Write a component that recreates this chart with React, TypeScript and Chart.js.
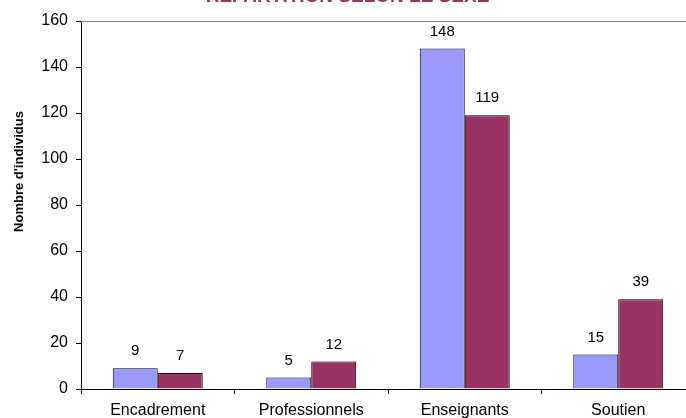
import React, { useEffect, useRef } from "react";
import { Chart, registerables } from "chart.js";

Chart.register(...registerables);

const categories = ["Encadrement", "Professionnels", "Enseignants", "Soutien"];
const hommes = [9, 5, 148, 15];
const femmes = [7, 12, 119, 39];
const seriesNames = ["Hommes", "Femmes"];
const chartTitle = "RÉPARTITION SELON LE SEXE";
const yAxisTitle = "Nombre d'individus";
const yMin = 0;
const yMax = 160;
const yStep = 20;

const FONT = "'Liberation Sans', Arial, sans-serif";
const CANVAS_W = 766;
const CANVAS_H = 435;
const SHIFT = 17;

const labelPlugin = {
  id: "barValueLabels",
  afterDatasetsDraw(chart: any) {
    const ctx = chart.ctx;
    ctx.save();
    ctx.font = `15px ${FONT}`;
    ctx.fillStyle = "#000";
    ctx.textAlign = "center";
    ctx.textBaseline = "middle";
    chart.data.datasets.forEach((ds: any, i: number) => {
      const meta = chart.getDatasetMeta(i);
      meta.data.forEach((el: any, j: number) => {
        ctx.fillText(String(ds.data[j]), el.x, el.y - 17);
      });
    });
    ctx.restore();
  },
};

const framePlugin = {
  id: "frameAndTitle",
  afterDraw(chart: any) {
    const ctx = chart.ctx;
    const a = chart.chartArea;
    ctx.save();
    ctx.strokeStyle = "#808080";
    ctx.lineWidth = 1;
    ctx.beginPath();
    ctx.moveTo(a.left, a.top + 0.5);
    ctx.lineTo(a.right, a.top + 0.5);
    ctx.lineTo(a.right - 0.5, a.bottom);
    ctx.stroke();
    // y axis title
    ctx.fillStyle = "#000";
    ctx.font = `bold 13px ${FONT}`;
    ctx.textAlign = "center";
    ctx.textBaseline = "middle";
    ctx.translate(19, a.top + (a.bottom - a.top) * 0.409);
    ctx.rotate(-Math.PI / 2);
    ctx.fillText(yAxisTitle, 0, 0);
    ctx.restore();
  },
};

export default function App() {
  const ref = useRef<HTMLCanvasElement | null>(null);

  useEffect(() => {
    if (!ref.current) return;
    const chart = new Chart(ref.current, {
      type: "bar",
      data: {
        labels: categories,
        datasets: [
          {
            label: seriesNames[0],
            data: hommes,
            backgroundColor: "#9999FF",
            borderColor: "#000000",
            borderWidth: 1,
            categoryPercentage: 0.586,
            barPercentage: 1.0,
          },
          {
            label: seriesNames[1],
            data: femmes,
            backgroundColor: "#993366",
            borderColor: "#000000",
            borderWidth: 1,
            categoryPercentage: 0.586,
            barPercentage: 1.0,
          },
        ],
      },
      options: {
        animation: false,
        responsive: false,
        devicePixelRatio: 1,
        layout: { padding: { top: 0, left: 0, right: 71, bottom: 0 } },
        plugins: {
          legend: { display: false },
          tooltip: { enabled: false },
          title: {
            display: true,
            text: chartTitle,
            color: "#993366",
            font: { family: FONT, size: 19, weight: "bold" },
            padding: { top: 2, bottom: 13.2 },
          },
        },
        scales: {
          x: {
            afterFit: (s: any) => {
              s.height = 29;
            },
            grid: {
              drawOnChartArea: false,
              drawTicks: true,
              tickLength: 5,
              color: "#000000",
              offset: true,
            },
            border: { color: "#000000", width: 1 },
            ticks: {
              color: "#000000",
              font: { family: FONT, size: 16 },
              padding: 7,
              maxRotation: 0,
              autoSkip: false,
            },
          },
          y: {
            min: yMin,
            max: yMax,
            afterFit: (s: any) => {
              s.width = 81;
            },
            grid: {
              drawOnChartArea: false,
              drawTicks: true,
              tickLength: 5,
              color: "#000000",
            },
            border: { color: "#000000", width: 1 },
            ticks: {
              stepSize: yStep,
              color: "#000000",
              font: { family: FONT, size: 16 },
              padding: 8,
            },
          },
        },
      },
      plugins: [labelPlugin, framePlugin],
    });
    return () => chart.destroy();
  }, []);

  return (
    <div
      style={{
        position: "fixed",
        left: 0,
        top: 0,
        width: 686,
        height: 418,
        overflow: "hidden",
        background: "#ffffff",
      }}
    >
      <canvas
        ref={ref}
        width={CANVAS_W}
        height={CANVAS_H}
        style={{
          position: "absolute",
          left: 0,
          top: -SHIFT,
          width: CANVAS_W,
          height: CANVAS_H,
          display: "block",
        }}
      />
    </div>
  );
}
